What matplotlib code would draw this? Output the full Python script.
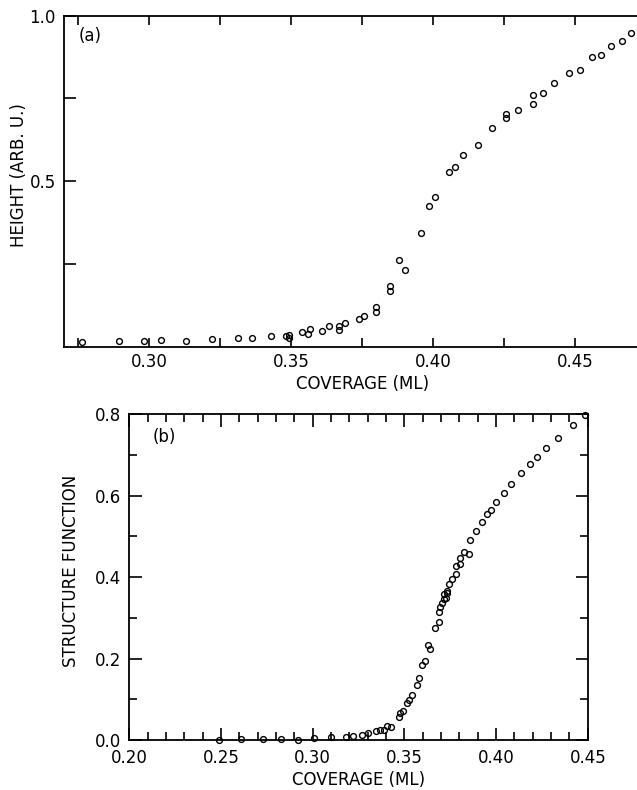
import matplotlib
matplotlib.use("Agg")
import matplotlib.pyplot as plt
from matplotlib.ticker import MultipleLocator, FixedLocator, FixedFormatter

# ---- panel (a): height vs coverage ----
coverage_a = [0.2762, 0.2892, 0.2981, 0.3041, 0.3129, 0.3222, 0.3311, 0.3361,
              0.3429, 0.3480, 0.3492, 0.3492, 0.3538, 0.3558, 0.3566, 0.3609,
              0.3632, 0.3669, 0.3669, 0.3689, 0.3737, 0.3757, 0.3798, 0.3798,
              0.3849, 0.3849, 0.3879, 0.3899, 0.3958, 0.3986, 0.4007, 0.4056,
              0.4076, 0.4105, 0.4158, 0.4207, 0.4257, 0.4257, 0.4297, 0.4350,
              0.4350, 0.4386, 0.4426, 0.4479, 0.4518, 0.4559, 0.4589, 0.4626,
              0.4666, 0.4697]
height_a = [0.013, 0.017, 0.017, 0.020, 0.018, 0.024, 0.026, 0.026,
            0.032, 0.032, 0.036, 0.026, 0.044, 0.039, 0.053, 0.047,
            0.062, 0.062, 0.050, 0.073, 0.085, 0.094, 0.119, 0.104,
            0.183, 0.168, 0.261, 0.233, 0.343, 0.424, 0.451, 0.527,
            0.544, 0.580, 0.610, 0.661, 0.703, 0.691, 0.716, 0.760,
            0.733, 0.767, 0.796, 0.826, 0.837, 0.875, 0.881, 0.908,
            0.924, 0.948]

# ---- panel (b): structure function vs coverage ----
coverage_b = [0.2489, 0.2611, 0.2730, 0.2827, 0.2918, 0.3009, 0.3100, 0.3182,
              0.3218, 0.3267, 0.3300, 0.3347, 0.3367, 0.3391, 0.3405, 0.3429,
              0.3471, 0.3476, 0.3494, 0.3516, 0.3525, 0.3541, 0.3567, 0.3580,
              0.3596, 0.3612, 0.3627, 0.3638, 0.3669, 0.3690, 0.3689, 0.3694,
              0.3705, 0.3714, 0.3714, 0.3725, 0.3731, 0.3735, 0.3741, 0.3760,
              0.3780, 0.3781, 0.3803, 0.3805, 0.3825, 0.3854, 0.3859, 0.3890,
              0.3921, 0.3952, 0.3972, 0.4000, 0.4041, 0.4081, 0.4138, 0.4185,
              0.4223, 0.4274, 0.4336, 0.4418, 0.4485]
structure_b = [0.000, 0.002, 0.002, 0.002, 0.001, 0.004, 0.007, 0.007,
               0.010, 0.012, 0.016, 0.021, 0.025, 0.025, 0.034, 0.031,
               0.056, 0.066, 0.072, 0.090, 0.098, 0.110, 0.135, 0.153,
               0.185, 0.193, 0.234, 0.223, 0.275, 0.289, 0.314, 0.327,
               0.336, 0.347, 0.358, 0.350, 0.367, 0.362, 0.383, 0.396,
               0.407, 0.428, 0.432, 0.447, 0.462, 0.458, 0.491, 0.513,
               0.536, 0.555, 0.566, 0.585, 0.607, 0.629, 0.656, 0.679,
               0.696, 0.717, 0.743, 0.774, 0.798]

xticks_a = [0.30, 0.35, 0.40, 0.45]
xticklabels_a = ["0.30", "0.35", "0.40", "0.45"]
yticks_a = [0.5, 1.0]
yticklabels_a = ["0.5", "1.0"]
xticks_b = [0.20, 0.25, 0.30, 0.35, 0.40, 0.45]
xticklabels_b = ["0.20", "0.25", "0.30", "0.35", "0.40", "0.45"]
yticks_b = [0.0, 0.2, 0.4, 0.6, 0.8]
yticklabels_b = ["0.0", "0.2", "0.4", "0.6", "0.8"]

plt.rcParams["font.family"] = ["DejaVu Sans"]

W, H = 637, 790
fig = plt.figure(figsize=(W / 100, H / 100), dpi=100)
fig.patch.set_facecolor("white")


def px_axes(left, top, right, bottom):
    return [left / W, 1 - bottom / H, (right - left) / W, (bottom - top) / H]


marker_kw = dict(linestyle="none", marker="o", markersize=4.2,
                 markerfacecolor="none", markeredgecolor="black",
                 markeredgewidth=1.0, clip_on=False)

# ---------------- panel (a) ----------------
ax1 = fig.add_axes(px_axes(64, 15.7, 660.5, 346.7))
ax1.plot(coverage_a, height_a, **marker_kw)
ax1.set_xlim(0.27, 0.48)
ax1.set_ylim(0.0, 1.0)
ax1.xaxis.set_major_locator(FixedLocator(xticks_a))
ax1.xaxis.set_major_formatter(FixedFormatter(xticklabels_a))
ax1.xaxis.set_minor_locator(FixedLocator([0.275, 0.325, 0.375, 0.425, 0.475]))
ax1.yaxis.set_major_locator(FixedLocator(yticks_a))
ax1.yaxis.set_major_formatter(FixedFormatter(yticklabels_a))
ax1.yaxis.set_minor_locator(FixedLocator([0.25, 0.75]))
ax1.tick_params(which="both", direction="in", top=True, right=True,
                width=1.2, labelsize=12, colors="black")
ax1.tick_params(axis="x", which="both", length=6.5, pad=4.5)
ax1.tick_params(axis="y", which="both", length=8.5, pad=6)
for s in ax1.spines.values():
    s.set_linewidth(1.3)
ax1.set_xlabel("COVERAGE (ML)", fontsize=12)
ax1.xaxis.set_label_coords(0.5, -0.085)
ax1.xaxis.label.set_va("top")
ax1.set_ylabel("HEIGHT (ARB. U.)", fontsize=12)
ax1.yaxis.set_label_coords(-0.06, 0.52)
fig.text(79 / W, 1 - 36 / H, "(a)", fontsize=12, ha="left", va="center")

# ---------------- panel (b) ----------------
ax2 = fig.add_axes(px_axes(129.3, 414.3, 587.8, 740))
ax2.plot(coverage_b, structure_b, **marker_kw)
ax2.set_xlim(0.20, 0.45)
ax2.set_ylim(0.0, 0.8)
ax2.xaxis.set_major_locator(FixedLocator(xticks_b))
ax2.xaxis.set_major_formatter(FixedFormatter(xticklabels_b))
ax2.xaxis.set_minor_locator(MultipleLocator(0.01))
ax2.yaxis.set_major_locator(FixedLocator(yticks_b))
ax2.yaxis.set_major_formatter(FixedFormatter(yticklabels_b))
ax2.yaxis.set_minor_locator(MultipleLocator(0.1))
ax2.tick_params(which="both", direction="in", top=True, right=True,
                width=1.2, labelsize=12, colors="black")
ax2.tick_params(which="major", length=9)
ax2.tick_params(which="minor", length=6)
ax2.tick_params(axis="x", which="major", pad=6.5)
ax2.tick_params(axis="y", which="major", pad=6)
for s in ax2.spines.values():
    s.set_linewidth(1.3)
ax2.set_xlabel("COVERAGE (ML)", fontsize=12)
ax2.xaxis.set_label_coords(0.5, -0.095)
ax2.xaxis.label.set_va("top")
ax2.set_ylabel("STRUCTURE FUNCTION", fontsize=12)
ax2.yaxis.set_label_coords(-0.107, 0.52)
fig.text(153 / W, 1 - 437 / H, "(b)", fontsize=12, ha="left", va="center")

fig.savefig("out.png", dpi=100, facecolor="white")
